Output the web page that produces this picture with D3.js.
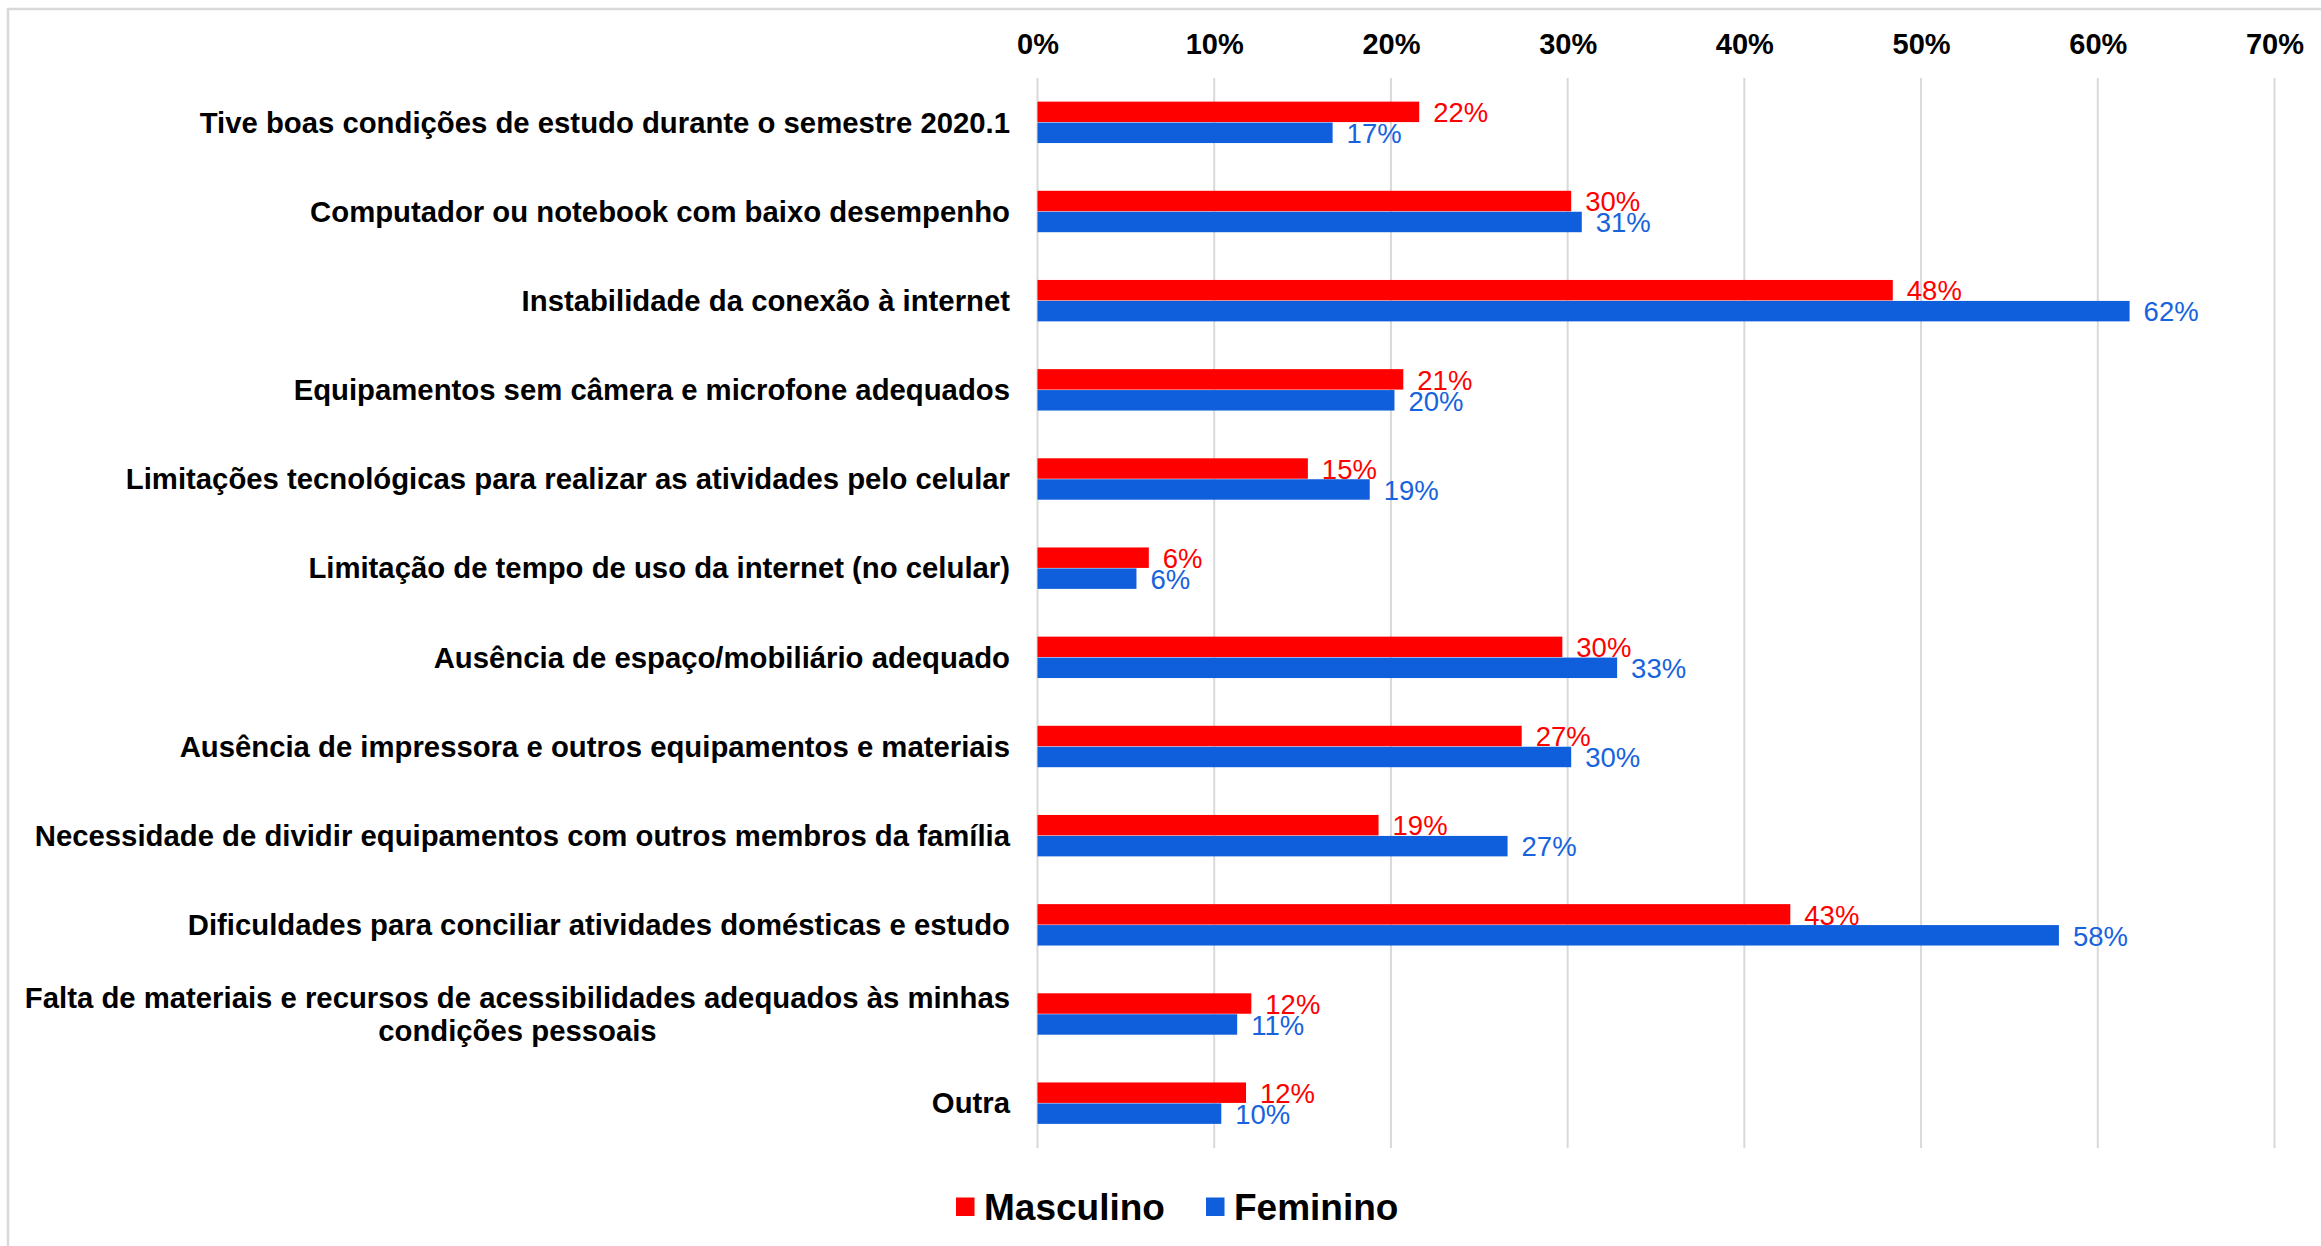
<!DOCTYPE html>
<html lang="pt-BR">
<head>
<meta charset="utf-8">
<title>Dificuldades no semestre 2020.1 por sexo</title>
<script src="https://cdn.jsdelivr.net/npm/d3@7/dist/d3.min.js"></script>
<style>
  html, body { margin: 0; padding: 0; background: #ffffff; }
  svg { display: block; font-family: "Liberation Sans", Arial, Helvetica, sans-serif; }
</style>
</head>
<body>
<svg id="chart" width="2321" height="1246"></svg>
<script>
// Respostas (percentual de estudantes) por categoria
const categories = [
  "Tive boas condições de estudo durante o semestre 2020.1",
  "Computador ou notebook com baixo desempenho",
  "Instabilidade da conexão à internet",
  "Equipamentos sem câmera e microfone adequados",
  "Limitações tecnológicas para realizar as atividades pelo celular",
  "Limitação de tempo de uso da internet (no celular)",
  "Ausência de espaço/mobiliário adequado",
  "Ausência de impressora e outros equipamentos e materiais",
  "Necessidade de dividir equipamentos com outros membros da família",
  "Dificuldades para conciliar atividades domésticas e estudo",
  "Falta de materiais e recursos de acessibilidades adequados às minhas condições pessoais",
  "Outra"
];
const masculino = [21.6, 30.2, 48.4, 20.7, 15.3, 6.3, 29.7, 27.4, 19.3, 42.6, 12.1, 11.8];
const feminino  = [16.7, 30.8, 61.8, 20.2, 18.8, 5.6, 32.8, 30.2, 26.6, 57.8, 11.3, 10.4];
const seriesNames = ["Masculino", "Feminino"];
const xTicks = [0, 10, 20, 30, 40, 50, 60, 70];

const colors = { Masculino: "#ff0000", Feminino: "#0f5edc" };
const labelColors = { Masculino: "#ff0000", Feminino: "#1763dd" };

const svg = d3.select("#chart");

// Moldura cinza clara do gráfico
svg.append("rect")
  .attr("x", 8).attr("y", 9)
  .attr("width", 2400).attr("height", 1400)
  .attr("fill", "none").attr("stroke", "#d9d9d9").attr("stroke-width", 2.5);

const plot = { left: 1037.5, right: 2274.5, top: 78, bottom: 1148 };

const x = d3.scaleLinear().domain([0, 70]).range([plot.left, plot.right]);
const y = d3.scaleBand().domain(categories)
  .range([plot.top, plot.bottom])
  .paddingInner(0.53).paddingOuter(0.265);
const ySub = d3.scaleBand().domain(seriesNames).range([0, y.bandwidth()]).padding(0);

// Linhas de grade verticais
svg.append("g")
  .selectAll("line")
  .data(xTicks)
  .join("line")
  .attr("x1", d => x(d)).attr("x2", d => x(d))
  .attr("y1", plot.top).attr("y2", plot.bottom)
  .attr("stroke", "#d9d9d9").attr("stroke-width", 2);

// Eixo superior com rótulos percentuais
const axis = svg.append("g")
  .attr("transform", `translate(0,${plot.top})`)
  .call(d3.axisTop(x).tickValues(xTicks).tickFormat(d => d + "%").tickSize(0).tickPadding(24));
axis.select(".domain").remove();
axis.selectAll("text")
  .attr("font-family", "'Liberation Sans', Arial, sans-serif")
  .attr("font-size", 29).attr("font-weight", "bold").attr("fill", "#000");

// Barras agrupadas
const rows = categories.map((c, i) => ({
  category: c,
  values: [
    { name: "Masculino", value: masculino[i] },
    { name: "Feminino", value: feminino[i] }
  ]
}));

const groups = svg.append("g")
  .selectAll("g")
  .data(rows)
  .join("g")
  .attr("transform", d => `translate(0,${y(d.category)})`);

groups.selectAll("rect")
  .data(d => d.values)
  .join("rect")
  .attr("x", x(0))
  .attr("y", d => ySub(d.name))
  .attr("width", d => x(d.value) - x(0))
  .attr("height", ySub.bandwidth() - 0.5)
  .attr("fill", d => colors[d.name]);

groups.selectAll("text.val")
  .data(d => d.values)
  .join("text")
  .attr("class", "val")
  .attr("x", d => x(d.value) + 14)
  .attr("y", d => ySub(d.name) + ySub.bandwidth() / 2 + 10)
  .attr("font-size", 27.5)
  .attr("fill", d => labelColors[d.name])
  .text(d => Math.round(d.value) + "%");

// Rótulos das categorias (com quebra de linha quando necessário)
const labelRight = 1010;
const maxLabelWidth = 1000;
const catLabels = svg.append("g")
  .selectAll("text")
  .data(categories)
  .join("text")
  .attr("font-size", 29.3)
  .attr("font-weight", "bold")
  .attr("fill", "#000");

catLabels.each(function (d) {
  const t = d3.select(this);
  const words = d.split(" ");
  const lines = [];
  let line = [];
  const probe = t.append("tspan");
  words.forEach(w => {
    const test = line.concat(w).join(" ");
    probe.text(test);
    if (probe.node().getComputedTextLength() > maxLabelWidth && line.length) {
      lines.push(line.join(" "));
      line = [w];
    } else {
      line.push(w);
    }
  });
  lines.push(line.join(" "));
  probe.remove();

  const cy = y(d) + y.bandwidth() / 2;
  const lh = 33;
  if (lines.length === 1) {
    t.attr("text-anchor", "end").attr("x", labelRight).attr("y", cy + 10).text(lines[0]);
  } else {
    let widest = 0;
    const spans = lines.map(l => {
      const s = t.append("tspan").text(l);
      widest = Math.max(widest, s.node().getComputedTextLength());
      return s;
    });
    const cx = labelRight - widest / 2;
    t.attr("text-anchor", "middle");
    spans.forEach((s, i) => {
      s.attr("x", cx).attr("y", cy + 10 + (i - (lines.length - 1) / 2) * lh);
    });
  }
});

// Legenda
const legend = svg.append("g").attr("transform", "translate(0,1207)");
const legendItems = [
  { name: "Masculino", x: 956 },
  { name: "Feminino", x: 1206 }
];
legendItems.forEach(item => {
  legend.append("rect")
    .attr("x", item.x).attr("y", -9.5)
    .attr("width", 18.5).attr("height", 18.5)
    .attr("fill", colors[item.name]);
  legend.append("text")
    .attr("x", item.x + 28).attr("y", 13)
    .attr("font-size", 37).attr("font-weight", "bold").attr("fill", "#000")
    .text(item.name);
});
</script>
</body>
</html>
